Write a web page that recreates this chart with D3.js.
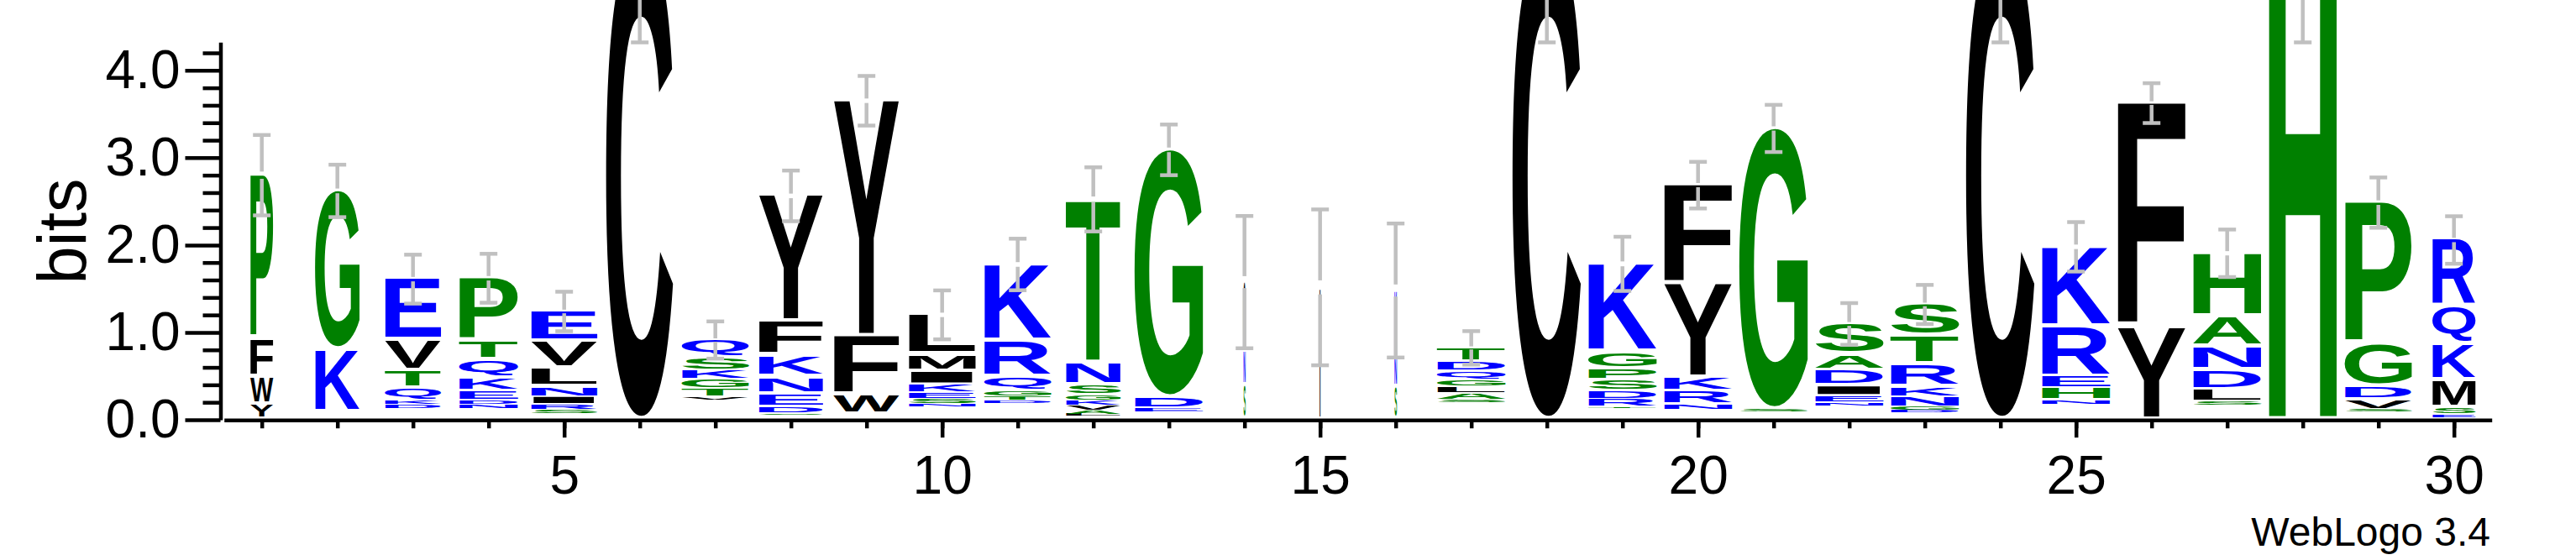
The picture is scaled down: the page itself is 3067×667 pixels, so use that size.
<!DOCTYPE html>
<html>
<head>
<meta charset="utf-8">
<script src="https://cdn.jsdelivr.net/npm/d3@7"></script>
<style>
  body { margin: 0; background: #fff; }
  svg { display: block; }
  .axis path, .axis line { stroke: #000; stroke-width: 4.5; }
  .axis text { font-family: "Liberation Sans", Arial, sans-serif; font-size: 64px; fill: #000; }
</style>
</head>
<body>
<div id="chart"></div>
<script>
// sequence positions
var positions = [1, 2, 3, 4, 5, 6, 7, 8, 9, 10, 11, 12, 13, 14, 15,
                 16, 17, 18, 19, 20, 21, 22, 23, 24, 25, 26, 27, 28, 29, 30];

// residues of each stack, from bottom to top
var letters = ["YWFP", "KG", "DKQTVE", "NDEKQTP", "SRINLVE", "C", "VTGKSQ", "SDENKFY",
               "WFY", "NSEKIML", "DTGQRK", "LAVKGSNT", "EDG", "SNC", "I", "SNK",
               "SALGQDT", "C", "TRDSPGK", "NRKYF", "SG", "NEIDAS", "DGNKRTS", "C",
               "NHERK", "YF", "SLDNAH", "H", "SVDGP", "ESMKQR"];

// height of each residue (bits), same order as letters
var heights = [
  [0.17, 0.31, 0.43, 1.89],
  [0.72, 1.82],
  [0.05, 0.04, 0.148, 0.193, 0.355, 0.704],
  [0.04, 0.048, 0.112, 0.141, 0.202, 0.218, 0.729],
  [0.042, 0.064, 0.086, 0.106, 0.209, 0.314, 0.349],
  [5.5],
  [0.027, 0.096, 0.102, 0.105, 0.135, 0.218],
  [0.02, 0.074, 0.144, 0.193, 0.246, 0.394, 1.442],
  [0.222, 0.679, 2.701],
  [0.026, 0.064, 0.07, 0.087, 0.154, 0.192, 0.458],
  [0.028, 0.044, 0.058, 0.161, 0.416, 0.881],
  [0.024, 0.039, 0.057, 0.061, 0.067, 0.106, 0.253, 1.876],
  [0.045, 0.115, 2.84],
  [0.39, 0.395, 0.791],
  [1.516],
  [0.368, 0.343, 0.769],
  [0.031, 0.07, 0.074, 0.08, 0.1, 0.108, 0.16],
  [5.5],
  [0.021, 0.083, 0.093, 0.122, 0.128, 0.192, 1.016],
  [0.066, 0.151, 0.147, 1.073, 1.139],
  [0.022, 3.223],
  [0.032, 0.08, 0.112, 0.176, 0.177, 0.36],
  [0.023, 0.041, 0.118, 0.106, 0.257, 0.326, 0.369],
  [5.5],
  [0.048, 0.14, 0.132, 0.574, 0.916],
  [1.048, 2.577],
  [0.042, 0.134, 0.224, 0.273, 0.343, 0.73],
  [5.5],
  [0.026, 0.111, 0.143, 0.49, 1.626],
  [0.036, 0.077, 0.311, 0.416, 0.43, 0.768]
];

// part of each stack too small to draw (bits)
var baseGap = [0, 0.08, 0.12, 0.13, 0.07, 0, 0.23, 0.05, 0.05, 0.15,
               0.19, 0.04, 0.09, 0, 0, 0, 0.2, 0, 0.13, 0.11,
               0.09, 0.16, 0.08, 0, 0.17, 0, 0.16, 0, 0.09, 0.02];

// stack width as fraction of a full column (sequence coverage)
var widths = [0.335, 0.65, 0.82, 0.86, 0.97, 0.98, 0.98, 0.94, 0.96, 0.98,
              0.98, 0.8, 1, 0.03, 0.012, 0.035, 1, 1, 1, 1,
              1, 1, 1, 1, 1, 1, 1, 1, 0.98, 0.63];

// error bar half length (bits)
var errors = [0.46, 0.30, 0.28, 0.28, 0.226, 1.18, 0.213, 0.29, 0.284, 0.28,
              0.295, 0.367, 0.29, 0.757, 0.892, 0.767, 0.192, 1.18, 0.31, 0.267,
              0.27, 0.239, 0.224, 1.18, 0.283, 0.228, 0.272, 1.18, 0.288, 0.272];

var yMajor = [0, 1, 2, 3, 4];
var yMinor = [0.2, 0.4, 0.6, 0.8, 1.2, 1.4, 1.6, 1.8, 2.2, 2.4, 2.6, 2.8,
              3.2, 3.4, 3.6, 3.8, 4.2];
var xLabels = [5, 10, 15, 20, 25, 30];

// hydrophobicity colour scheme
var colorOf = {};
"RKDENQ".split("").forEach(function(c) { colorOf[c] = "#0000ff"; });
"SGHTAP".split("").forEach(function(c) { colorOf[c] = "#008000"; });
"YVMCLFIW".split("").forEach(function(c) { colorOf[c] = "#000000"; });

var W = 3067, H = 667;
var colWidth = 82;

var x = d3.scaleLinear().domain([0.5, 30.5]).range([266.7, 2966.7]);
var y = d3.scaleLinear().domain([0, 4.3219]).range([500, 50.3]);

var svg = d3.select("#chart").append("svg")
    .attr("width", W)
    .attr("height", H);
svg.append("rect").attr("width", W).attr("height", H).attr("fill", "#fff");

// measure glyph ink so each letter can be stretched into its box
var ctx = document.createElement("canvas").getContext("2d");
ctx.font = "bold 100px 'Liberation Sans'";
var inkCache = {};
function ink(ch) {
    if (!inkCache[ch]) {
        var m = ctx.measureText(ch);
        inkCache[ch] = {
            l: m.actualBoundingBoxLeft, r: m.actualBoundingBoxRight,
            a: m.actualBoundingBoxAscent, d: m.actualBoundingBoxDescent
        };
    }
    return inkCache[ch];
}

var logo = svg.append("g")
    .attr("font-family", "'Liberation Sans', Arial, sans-serif")
    .attr("font-weight", "bold")
    .attr("font-size", "100px");

positions.forEach(function(p, i) {
    var w = colWidth * widths[i];
    var x0 = x(p) - w / 2;
    var cum = baseGap[i];
    letters[i].split("").forEach(function(ch, j) {
        var h = heights[i][j];
        var yb = y(cum), yt = y(cum + h);
        cum += h;
        var gap = Math.min(4.5, 0.2 * (yb - yt));
        var gh = yb - gap - yt;
        var m = ink(ch);
        var sx = w / (m.l + m.r), sy = gh / (m.a + m.d);
        logo.append("text")
            .attr("transform", "translate(" + (x0 + m.l * sx) + "," + (yb - gap - m.d * sy) + ") scale(" + sx + "," + sy + ")")
            .attr("fill", colorOf[ch])
            .text(ch);
    });
});

// error bars, centred on the stack top
var bars = svg.append("g")
    .attr("stroke", "#c0c0c0")
    .attr("stroke-width", 4.5);

positions.forEach(function(p, i) {
    var top = baseGap[i] + d3.sum(heights[i]);
    var cx = x(p), yc = y(top);
    var e = y(0) - y(errors[i]);
    var g = 0.09 * e;
    bars.append("line").attr("x1", cx).attr("x2", cx).attr("y1", yc - e).attr("y2", yc - g);
    bars.append("line").attr("x1", cx).attr("x2", cx).attr("y1", yc + g).attr("y2", yc + e);
    bars.append("line").attr("x1", cx - 10.5).attr("x2", cx + 10.5).attr("y1", yc - e).attr("y2", yc - e);
    bars.append("line").attr("x1", cx - 10.5).attr("x2", cx + 10.5).attr("y1", yc + e).attr("y2", yc + e);
});

// y axis
svg.append("g")
    .attr("class", "axis")
    .attr("transform", "translate(262.5,0)")
    .call(d3.axisLeft(y).tickValues(yMinor).tickSize(21).tickSizeOuter(0).tickFormat(""))
    .select(".domain").remove();

svg.append("g")
    .attr("class", "axis")
    .attr("transform", "translate(262.5,0)")
    .call(d3.axisLeft(y).tickValues(yMajor).tickSize(42).tickSizeOuter(0)
        .tickPadding(6).tickFormat(d3.format(".1f")));

// x axis
svg.append("g")
    .attr("class", "axis")
    .attr("transform", "translate(0,500.2)")
    .call(d3.axisBottom(x).tickValues(positions).tickSize(10).tickSizeOuter(0).tickFormat(""));

svg.append("g")
    .attr("class", "axis")
    .attr("transform", "translate(0,500.2)")
    .call(d3.axisBottom(x).tickValues(xLabels).tickSize(21).tickSizeOuter(0).tickPadding(21))
    .select(".domain").remove();

svg.selectAll(".axis text").attr("font-family", null);

// axis title
svg.append("text")
    .attr("transform", "translate(101.8,275.4) rotate(-90)")
    .attr("text-anchor", "middle")
    .attr("font-family", "'Liberation Sans', Arial, sans-serif")
    .attr("font-size", "81px")
    .text("bits");

// footer
svg.append("text")
    .attr("x", 2965)
    .attr("y", 650)
    .attr("text-anchor", "end")
    .attr("font-family", "'Liberation Sans', Arial, sans-serif")
    .attr("font-size", "48px")
    .text("WebLogo 3.4");
</script>
</body>
</html>
